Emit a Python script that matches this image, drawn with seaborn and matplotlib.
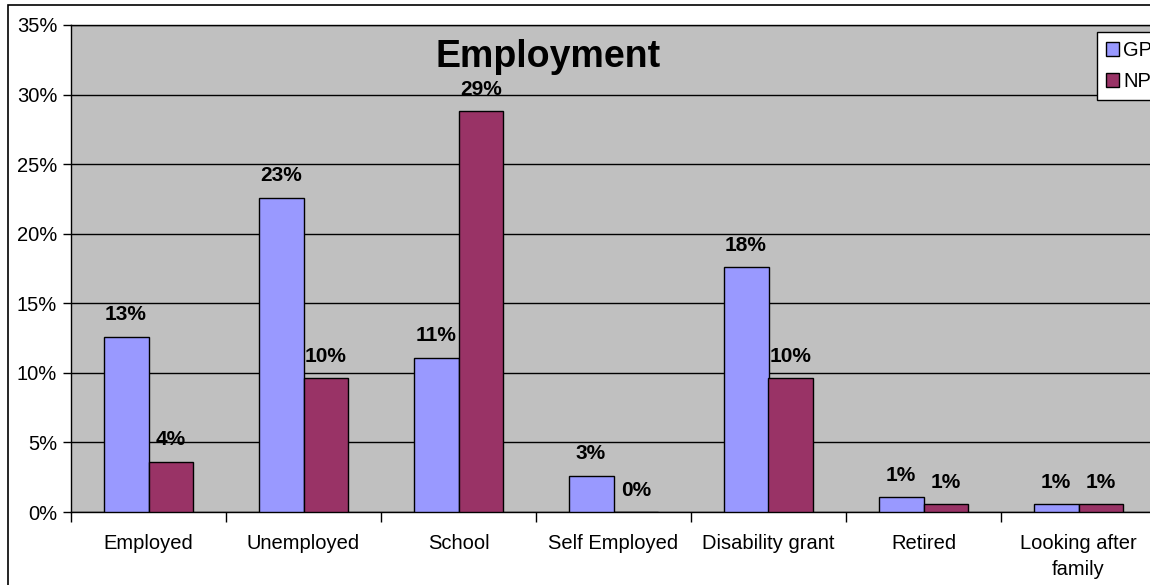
import matplotlib
matplotlib.use("Agg")
import matplotlib.pyplot as plt
from matplotlib.patches import Patch, Rectangle
import seaborn as sns
import pandas as pd

categories = ["Employed", "Unemployed", "School", "Self Employed",
              "Disability grant", "Retired", "Looking after\nfamily"]
gp_values = [12.6, 22.6, 11.1, 2.6, 17.6, 1.05, 0.55]
np_values = [3.6, 9.6, 28.8, 0.0, 9.6, 0.55, 0.55]
series_names = ["GP", "NP"]
y_ticks = [0, 5, 10, 15, 20, 25, 30, 35]

df = pd.DataFrame({
    "category": categories * 2,
    "value": gp_values + np_values,
    "group": [series_names[0]] * len(categories) + [series_names[1]] * len(categories),
})

plt.rcParams["font.family"] = ["Liberation Sans", "DejaVu Sans"]
colors = {"GP": "#9999FF", "NP": "#993366"}

fig = plt.figure(figsize=(11.5, 5.85), dpi=100)
ax = fig.add_axes([71 / 1150, 73 / 585, 7 * 155 / 1150, 487 / 585])
ax.set_facecolor("#C0C0C0")

sns.barplot(data=df, x="category", y="value", hue="group", hue_order=series_names,
            palette=colors, width=0.58, edgecolor="black", linewidth=1,
            saturation=1, errorbar=None, ax=ax, legend=False, zorder=3)

for container in ax.containers:
    ax.bar_label(container, labels=[f"{v:.0f}%" for v in container.datavalues],
                 padding=9, fontsize=15, fontweight="bold", zorder=4)

ax.set_ylim(0, 35)
ax.set_xlim(-0.5, len(categories) - 0.5)
ax.set_yticks(y_ticks)
ax.set_yticklabels([f"{t}%" for t in y_ticks], fontsize=14.5)
ax.yaxis.grid(True, color="black", linewidth=1, zorder=1)
ax.set_axisbelow(True)
ax.tick_params(axis="y", direction="out", length=6, width=1, pad=4)

ax.set_xticks(range(len(categories)))
ax.set_xticklabels(categories, fontsize=14.5, linespacing=1.45)
ax.set_xticks([i - 0.5 for i in range(len(categories) + 1)], minor=True)
ax.tick_params(axis="x", which="major", length=0, pad=16)
ax.tick_params(axis="x", which="minor", direction="out", length=7, width=1)
ax.set_xlabel("")
ax.set_ylabel("")

for side in ["left", "bottom", "top", "right"]:
    ax.spines[side].set_color("black")
    ax.spines[side].set_linewidth(1)

ax.text(548 / 1150, 1 - 57 / 585, "Employment", transform=fig.transFigure,
        ha="center", va="center", fontsize=27, fontweight="bold", zorder=5)

handles = [Patch(facecolor=colors[n], edgecolor="black", linewidth=1) for n in series_names]
leg = fig.legend(handles, series_names, loc="upper left",
                 bbox_to_anchor=(1097 / 1150, 1 - 32 / 585), fontsize=14.5,
                 frameon=True, fancybox=False, edgecolor="black", framealpha=1,
                 handlelength=0.65, handleheight=0.65, handletextpad=0.2,
                 labelspacing=0.6, borderpad=0.45, borderaxespad=0)
leg.get_frame().set_linewidth(1)

fig.patches.append(Rectangle((8 / 1150, -0.05), 1.2, 1.05 - 5 / 585,
                             transform=fig.transFigure, fill=False,
                             edgecolor="black", linewidth=1.2))

fig.savefig("out.png", dpi=100)
